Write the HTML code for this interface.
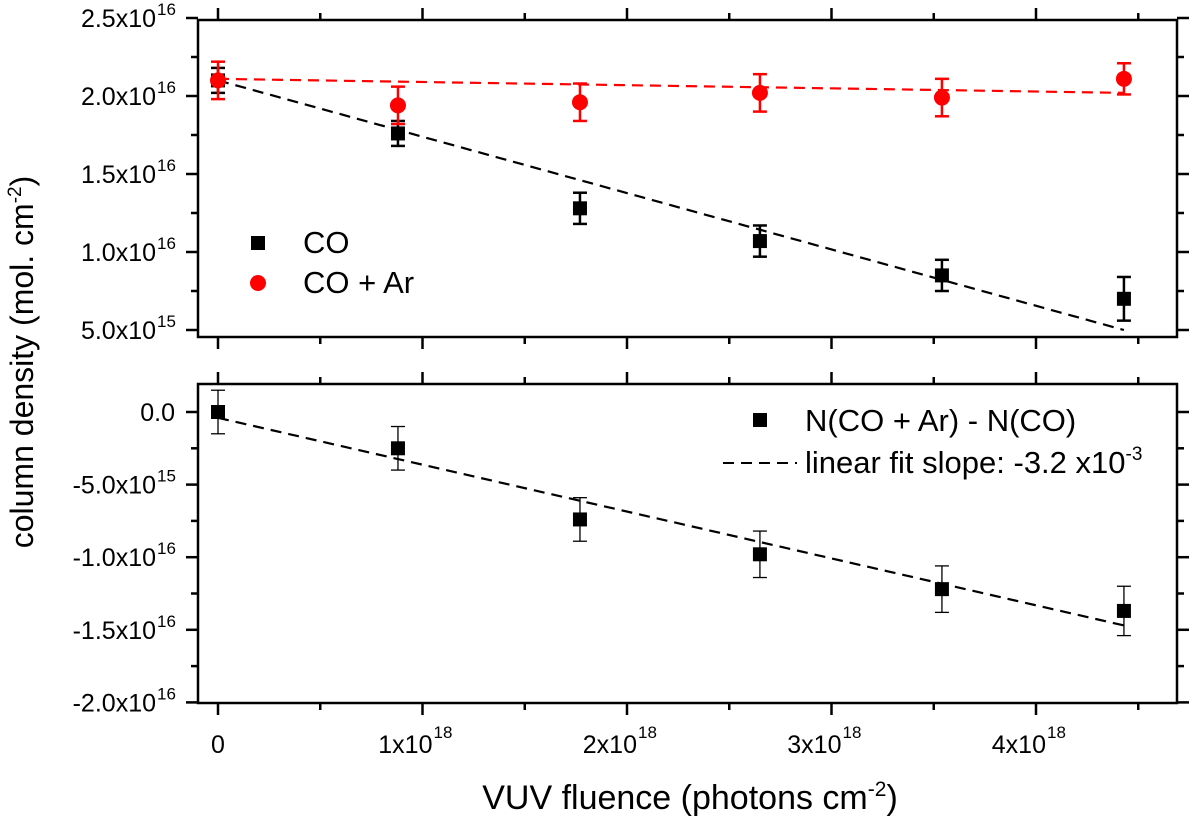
<!DOCTYPE html>
<html><head><meta charset="utf-8"><style>
body{margin:0;background:#fff}
svg{display:block;font-family:"Liberation Sans",Arial,sans-serif}
</style></head><body>
<svg id="chart" width="1200" height="818" viewBox="0 0 1200 818"></svg>
<script>
const xVals=[0,0.88,1.77,2.65,3.54,4.43];
const coVals=[2.10,1.76,1.28,1.07,0.85,0.70];
const coErr=[0.08,0.08,0.10,0.10,0.10,0.14];
const arVals=[2.10,1.94,1.96,2.02,1.99,2.11];
const arErr=[0.12,0.12,0.12,0.12,0.12,0.10];
const diffVals=[0.0,-0.25,-0.74,-0.98,-1.22,-1.37];
const diffErr=[0.15,0.15,0.15,0.16,0.16,0.17];
const coFit=[2.10,0.50];
const arFit=[2.11,2.02];
const diffFit=[-0.04,-1.47];
const xTickLabels=["0","1x10","2x10","3x10","4x10"];
const topYTicks=[2.5,2.0,1.5,1.0,0.5];
const topYLabels=["2.5x10","2.0x10","1.5x10","1.0x10","5.0x10"];
const topYExp=["16","16","16","16","15"];
const botYTicks=[0,-0.5,-1.0,-1.5,-2.0];
const botYLabels=["0.0","-5.0x10","-1.0x10","-1.5x10","-2.0x10"];
const botYExp=["","15","16","16","16"];

const svg=document.getElementById('chart');
const NS='http://www.w3.org/2000/svg';
function mk(tag,attrs,parent){const e=document.createElementNS(NS,tag);for(const k in attrs)e.setAttribute(k,attrs[k]);(parent||svg).appendChild(e);return e;}
const L=198,R=1177;
const T1=20,B1=337,T2=384,B2=703;
const X=v=>218+v*204.5;
const Y1=v=>96-(v-2.0)/0.5*78;
const Y2=v=>412-(v/0.5)*72.6;

function frame(T,B,name){
  const r=mk('rect',{x:L,y:T,width:R-L,height:B-T,fill:'none',stroke:'#000','stroke-width':2.5});
  
  
  for(let i=0;i<=9;i++){const v=i*0.5;const x=X(v);const len=(i%2==0)?12:7;
    mk('line',{x1:x,y1:T,x2:x,y2:T-len,stroke:'#000','stroke-width':2.5});
    mk('line',{x1:x,y1:B,x2:x,y2:B+len,stroke:'#000','stroke-width':2.5});}
}
frame(T1,B1,'top-panel-frame');
frame(T2,B2,'bottom-panel-frame');

function yticks(ticks,labels,exps,Yf,T,B,name){
  const g=mk('g',{});
  
  
  for(let i=0;i<ticks.length;i++){
    const y=Yf(ticks[i]);
    mk('line',{x1:L,y1:y,x2:L-12,y2:y,stroke:'#000','stroke-width':2.5},g);
    mk('line',{x1:R,y1:y,x2:R+12,y2:y,stroke:'#000','stroke-width':2.5},g);
    if(i<ticks.length-1){const ym=Yf(ticks[i]-0.25);
      mk('line',{x1:L,y1:ym,x2:L-7,y2:ym,stroke:'#000','stroke-width':2.5},g);
      mk('line',{x1:R,y1:ym,x2:R+7,y2:ym,stroke:'#000','stroke-width':2.5},g);}
    const t=mk('text',{x:exps[i]?156:175,y:y+9,'text-anchor':'end','font-size':25},g);
    t.textContent=labels[i];
    if(exps[i]){const s=mk('text',{x:157,y:y-3,'font-size':17},g);s.textContent=exps[i];}
  }
}
yticks(topYTicks,topYLabels,topYExp,Y1,T1,B1,'top-y-axis');
yticks(botYTicks,botYLabels,botYExp,Y2,T2,B2,'bottom-y-axis');

const xg=mk('g',{});


for(let i=0;i<xTickLabels.length;i++){
  const x=X(i);
  if(i==0){const t=mk('text',{x:x,y:753,'text-anchor':'middle','font-size':25},xg);t.textContent='0';}
  else{const t=mk('text',{x:x+10,y:753,'text-anchor':'end','font-size':25},xg);t.textContent=xTickLabels[i];
    const s=mk('text',{x:x+11,y:738,'font-size':17},xg);s.textContent='18';}
}
const xt=mk('text',{x:690,y:809,'text-anchor':'middle','font-size':34});
xt.innerHTML='VUV fluence (photons cm<tspan dy="-13" font-size="21">-2</tspan><tspan dy="13">)</tspan>';


const yt=mk('text',{x:0,y:0,'text-anchor':'middle','font-size':32,transform:'translate(33,362) rotate(-90)'});
yt.innerHTML='column density (mol. cm<tspan dy="-12" font-size="19">-2</tspan><tspan dy="12">)</tspan>';



function fit(vals,Yf,color,name){
  const l=mk('line',{x1:X(xVals[0]),y1:Yf(vals[0]),x2:X(xVals[xVals.length-1]),y2:Yf(vals[1]),stroke:color,'stroke-width':2.2,'stroke-dasharray':'11,7'});
  
  
}
fit(coFit,Y1,'#000','co-fit-line');
fit(arFit,Y1,'#f00','co-ar-fit-line');
fit(diffFit,Y2,'#000','diff-fit-line');

function series(vals,errs,Yf,color,shape,sw,name){
  for(let i=0;i<vals.length;i++){
    const x=X(xVals[i]),y=Yf(vals[i]),yu=Yf(vals[i]+errs[i]),yd=Yf(vals[i]-errs[i]);
    const g=mk('g',{});
    
    
    mk('line',{x1:x,y1:yu,x2:x,y2:yd,stroke:color,'stroke-width':sw},g);
    mk('line',{x1:x-7,y1:yu,x2:x+7,y2:yu,stroke:color,'stroke-width':sw},g);
    mk('line',{x1:x-7,y1:yd,x2:x+7,y2:yd,stroke:color,'stroke-width':sw},g);
    if(shape=='sq')mk('rect',{x:x-7,y:y-7,width:14,height:14,fill:color},g);
    else mk('circle',{cx:x,cy:y,r:8,fill:color},g);
  }
}
series(coVals,coErr,Y1,'#000','sq',2.5,'co');
series(arVals,arErr,Y1,'#f00','ci',2.5,'co-ar');
series(diffVals,diffErr,Y2,'#000','sq',1.3,'diff');

function legendG(name){const g=mk('g',{});return g;}
let g=legendG('legend-co');
mk('rect',{x:101+150,y:236,width:14,height:14,fill:'#000'},g);
let t=mk('text',{x:303,y:253,'font-size':31},g);t.textContent='CO';
g=legendG('legend-co-ar');
mk('circle',{cx:258,cy:283,r:8,fill:'#f00'},g);
t=mk('text',{x:303,y:293,'font-size':31},g);t.textContent='CO + Ar';
g=legendG('legend-diff');
mk('rect',{x:753,y:413,width:14,height:14,fill:'#000'},g);
t=mk('text',{x:805,y:431,'font-size':31},g);t.textContent='N(CO + Ar) - N(CO)';
g=legendG('legend-fit');
mk('line',{x1:723,y1:463,x2:797,y2:463,stroke:'#000','stroke-width':2,'stroke-dasharray':'11,7'},g);
t=mk('text',{x:805,y:473,'font-size':31},g);
t.innerHTML='linear fit slope: -3.2 x10<tspan dy="-13" font-size="19">-3</tspan>';
</script>
</body></html>
